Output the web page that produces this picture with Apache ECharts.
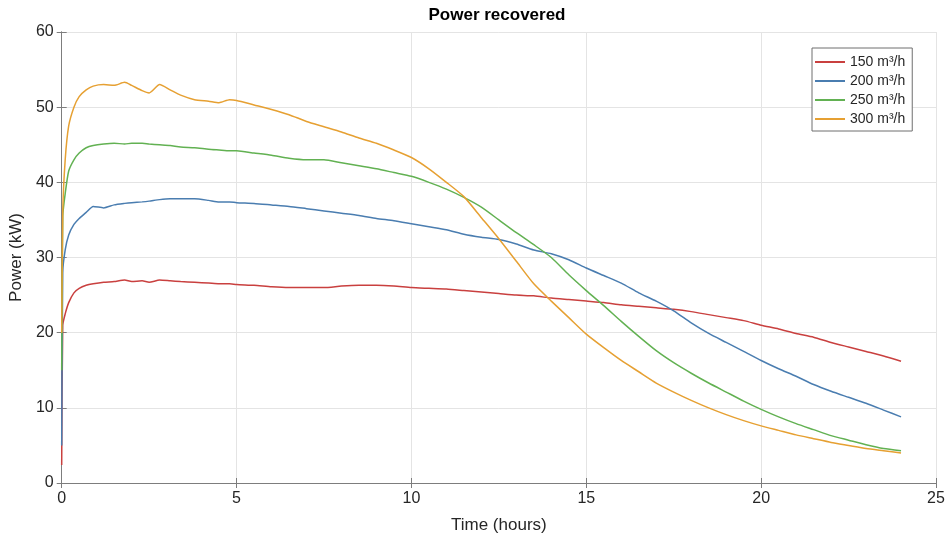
<!DOCTYPE html>
<html>
<head>
<meta charset="utf-8">
<title>Power recovered</title>
<script src="https://cdn.jsdelivr.net/npm/echarts@6/dist/echarts.min.js"></script>
<style>
  html, body { margin: 0; padding: 0; background: #fff; }
  #chart { width: 949px; height: 539px; }
</style>
</head>
<body>
<div id="chart"></div>
<script>
// Time stamps in hours, shared by every flow-rate series
const hours = [0, 0.03, 0.1, 0.2, 0.35, 0.5, 0.7, 0.9, 1.2, 1.5, 1.8, 2.0, 2.3, 2.5, 2.8, 3.1, 3.4, 3.8, 4.2, 4.5,
  4.8, 5.0, 5.5, 6.0, 6.5, 7.0, 7.5, 8.0, 8.5, 9.0, 9.5, 10.0, 10.5, 11.0, 11.5, 12.0, 12.5, 13.0, 13.5, 14.0,
  14.5, 15.0, 15.5, 16.0, 16.5, 17.0, 17.5, 18.0, 18.5, 19.0, 19.5, 20.0, 20.5, 21.0, 21.5, 22.0, 22.5, 23.0, 23.5, 24.0];

// Recovered power in kW for each flow rate
const power150 = [2.4, 21.0, 22.5, 24.0, 25.3, 25.9, 26.3, 26.5, 26.7, 26.8, 27.0, 26.8, 26.9, 26.7, 27.0, 26.9, 26.8, 26.7, 26.6, 26.5,
  26.5, 26.4, 26.3, 26.1, 26.0, 26.0, 26.0, 26.2, 26.3, 26.3, 26.2, 26.0, 25.9, 25.8, 25.6, 25.4, 25.2, 25.0, 24.9, 24.6,
  24.4, 24.2, 24.0, 23.7, 23.5, 23.3, 23.1, 22.8, 22.4, 22.0, 21.6, 21.0, 20.5, 19.9, 19.4, 18.7, 18.1, 17.5, 16.9, 16.2];

const power200 = [5.0, 28.0, 31.0, 33.0, 34.4, 35.2, 36.0, 36.8, 36.6, 37.0, 37.2, 37.3, 37.4, 37.5, 37.7, 37.8, 37.8, 37.8, 37.6, 37.4,
  37.4, 37.3, 37.2, 37.0, 36.8, 36.5, 36.2, 35.9, 35.6, 35.2, 34.9, 34.5, 34.1, 33.7, 33.1, 32.7, 32.4, 31.8, 31.0, 30.5,
  29.7, 28.6, 27.6, 26.6, 25.3, 24.2, 22.9, 21.3, 19.9, 18.7, 17.5, 16.3, 15.2, 14.2, 13.1, 12.2, 11.4, 10.6, 9.7, 8.8];

const power250 = [15.0, 35.5, 38.5, 41.5, 43.0, 43.9, 44.6, 44.9, 45.1, 45.2, 45.1, 45.2, 45.2, 45.1, 45.0, 44.9, 44.7, 44.6, 44.4, 44.3,
  44.2, 44.2, 43.9, 43.6, 43.2, 43.0, 43.0, 42.6, 42.2, 41.8, 41.3, 40.8, 40.0, 39.1, 38.0, 36.7, 35.0, 33.3, 31.7, 30.0,
  27.7, 25.6, 23.6, 21.5, 19.5, 17.6, 16.0, 14.6, 13.3, 12.1, 10.9, 9.8, 8.8, 7.9, 7.1, 6.3, 5.7, 5.1, 4.6, 4.3];

const power300 = [20.0, 36.0, 43.0, 47.5, 50.0, 51.4, 52.3, 52.8, 53.0, 52.9, 53.3, 52.9, 52.2, 51.9, 53.0, 52.3, 51.6, 51.0, 50.8, 50.6,
  51.0, 50.9, 50.3, 49.7, 49.0, 48.1, 47.4, 46.7, 45.9, 45.2, 44.3, 43.3, 41.8, 40.0, 38.1, 35.3, 32.5, 29.5, 26.5, 24.2,
  22.0, 19.8, 18.0, 16.3, 14.8, 13.3, 12.1, 11.0, 10.0, 9.1, 8.3, 7.6, 7.0, 6.4, 5.9, 5.4, 5.0, 4.6, 4.3, 4.0];

const seriesNames = ['150 m³/h', '200 m³/h', '250 m³/h', '300 m³/h'];
const seriesColors = ['#c9403f', '#4a7db0', '#62b152', '#e6a032'];
const seriesValues = [power150, power200, power250, power300];

const FONT = '"Liberation Sans", Arial, sans-serif';
const AXIS_GREY = '#7d7d7d';
const TEXT_DARK = '#262626';

const chart = echarts.init(document.getElementById('chart'), null, { renderer: 'canvas' });

function pairs(values) {
  return hours.map((h, i) => [h, values[i]]);
}

const tickStyle = { show: true, inside: true, length: 5, lineStyle: { color: AXIS_GREY, width: 1 } };
const lineStyleAxis = { show: true, lineStyle: { color: AXIS_GREY, width: 1 } };

chart.setOption({
  animation: false,
  backgroundColor: '#ffffff',
  textStyle: { fontFamily: FONT },
  graphic: [{
    type: 'text',
    x: 497,
    y: 15,
    style: {
      text: 'Power recovered',
      font: 'bold 17px ' + FONT,
      fill: '#000',
      textAlign: 'center',
      textVerticalAlign: 'middle'
    }
  }],
  grid: { left: 58, right: 13, top: 32, bottom: 53, show: false },
  legend: {
    data: seriesNames,
    orient: 'vertical',
    left: 812,
    top: 48,
    padding: [7, 7, 5, 3],
    itemGap: 5,
    itemWidth: 30,
    itemHeight: 2,
    icon: 'rect',
    backgroundColor: '#fff',
    borderColor: '#6e6e6e',
    borderWidth: 1,
    textStyle: { fontFamily: FONT, fontSize: 14, color: TEXT_DARK, lineHeight: 14 }
  },
  xAxis: [{
    type: 'value',
    min: 0, max: 25, interval: 5,
    position: 'bottom',
    axisLine: lineStyleAxis,
    axisTick: tickStyle,
    axisLabel: { color: TEXT_DARK, fontSize: 16, fontFamily: FONT, margin: 8 },
    splitLine: { show: true, lineStyle: { color: '#e4e4e4', width: 1 } },
    name: 'Time (hours)',
    nameLocation: 'middle',
    nameGap: 34,
    nameTextStyle: { color: TEXT_DARK, fontSize: 17, fontFamily: FONT }
  }, {
    type: 'value',
    min: 0, max: 25, interval: 5,
    position: 'top',
    axisLine: lineStyleAxis,
    axisTick: tickStyle,
    axisLabel: { show: false },
    splitLine: { show: false }
  }],
  yAxis: [{
    type: 'value',
    min: 0, max: 60, interval: 10,
    position: 'left',
    axisLine: lineStyleAxis,
    axisTick: tickStyle,
    axisLabel: { color: TEXT_DARK, fontSize: 16, fontFamily: FONT, margin: 8 },
    splitLine: { show: true, lineStyle: { color: '#e4e4e4', width: 1 } },
    name: 'Power (kW)',
    nameLocation: 'middle',
    nameGap: 33,
    nameTextStyle: { color: TEXT_DARK, fontSize: 17, fontFamily: FONT }
  }, {
    type: 'value',
    min: 0, max: 60, interval: 10,
    position: 'right',
    axisLine: lineStyleAxis,
    axisTick: tickStyle,
    axisLabel: { show: false },
    splitLine: { show: false }
  }],
  series: seriesNames.map((name, i) => ({
    name: name,
    type: 'line',
    xAxisIndex: 0,
    yAxisIndex: 0,
    data: pairs(seriesValues[i]),
    showSymbol: false,
    symbol: 'none',
    smooth: 0.2,
    lineStyle: { color: seriesColors[i], width: 1.5 },
    itemStyle: { color: seriesColors[i] },
    z: 2 + i
  }))
});
</script>
</body>
</html>
